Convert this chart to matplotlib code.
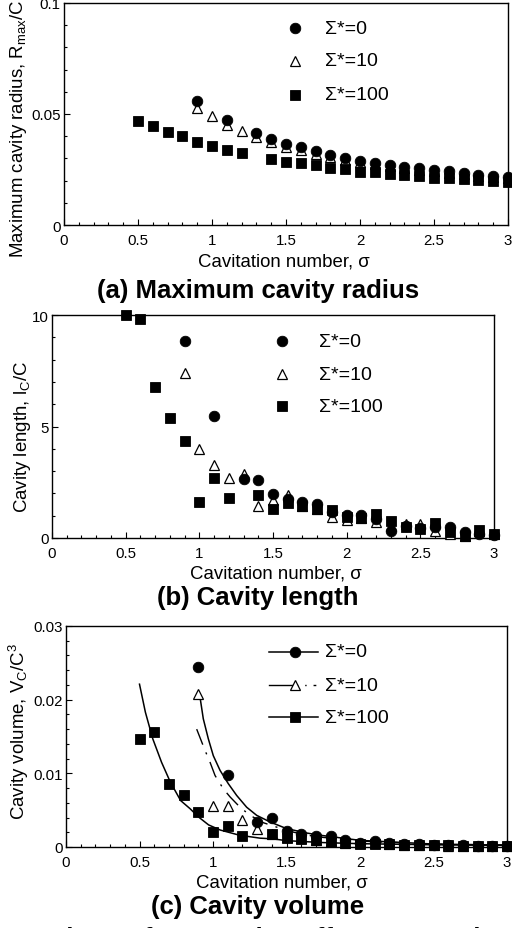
import matplotlib
matplotlib.use('Agg')
import matplotlib.pyplot as plt
from matplotlib.ticker import MultipleLocator, FuncFormatter

plt.rcParams['font.family'] = ['Liberation Sans', 'DejaVu Sans']
plt.rcParams['mathtext.fontset'] = 'custom'
plt.rcParams['mathtext.rm'] = 'Liberation Sans'
plt.rcParams['mathtext.it'] = 'Liberation Sans:italic'
plt.rcParams['mathtext.bf'] = 'Liberation Sans:bold'

# ---------------- data ----------------
labels = ['Σ*=0', 'Σ*=10', 'Σ*=100']

sig_circ = [0.9, 1.1, 1.3, 1.4, 1.5, 1.6, 1.7, 1.8, 1.9, 2.0, 2.1, 2.2, 2.3, 2.4,
            2.5, 2.6, 2.7, 2.8, 2.9, 3.0]
sig_tri = [0.9, 1.0, 1.1, 1.2, 1.3, 1.4, 1.5, 1.6, 1.7, 1.8, 1.9, 2.0, 2.1, 2.2,
           2.3, 2.4, 2.5, 2.6, 2.7, 2.8, 2.9, 3.0]
sig_sq = [0.5, 0.6, 0.7, 0.8, 0.9, 1.0, 1.1, 1.2, 1.4, 1.5, 1.6, 1.7, 1.8, 1.9,
          2.0, 2.1, 2.2, 2.3, 2.4, 2.5, 2.6, 2.7, 2.8, 2.9, 3.0]

# (a) maximum cavity radius
Ra_s0 = [0.0557, 0.0474, 0.0413, 0.0387, 0.0365, 0.0350, 0.0332, 0.0317, 0.0303,
         0.0290, 0.0281, 0.0272, 0.0263, 0.0257, 0.0248, 0.0242, 0.0234, 0.0227,
         0.0222, 0.0215]
Ra_s10 = [0.0527, 0.0490, 0.0450, 0.0425, 0.0398, 0.0372, 0.0352, 0.0337, 0.0322,
          0.0308, 0.0295, 0.0283, 0.0274, 0.0265, 0.0257, 0.0250, 0.0242, 0.0236,
          0.0229, 0.0222, 0.0217, 0.0211]
Ra_s100 = [0.0467, 0.0444, 0.0420, 0.0399, 0.0375, 0.0357, 0.0339, 0.0326, 0.0297,
           0.0285, 0.0278, 0.0269, 0.0257, 0.0251, 0.0240, 0.0237, 0.0231, 0.0225,
           0.0221, 0.0213, 0.0210, 0.0206, 0.0203, 0.0200, 0.0195]

# (b) cavity length
Lb_s0 = [8.82, 5.49, 2.65, 2.62, 1.96, 1.75, 1.60, 1.52, 1.15, 1.03, 1.03, 0.85,
         0.33, 0.55, 0.45, 0.50, 0.51, 0.25, 0.20, 0.15]
Lb_s10 = [7.40, 3.99, 3.29, 2.68, 2.85, 1.45, 1.70, 1.95, 1.45, 1.30, 0.95, 0.80,
          0.90, 0.70, 0.55, 0.62, 0.62, 0.30, 0.20, 0.10, 0.30, 0.20]
Lb_s100 = [10.0, 9.82, 6.76, 5.40, 4.36, 1.60, 2.69, 1.79, 1.94, 1.30, 1.57, 1.45,
           1.30, 1.26, 0.93, 0.88, 1.08, 0.78, 0.51, 0.40, 0.66, 0.25, 0.08, 0.36,
           0.18]

# (c) cavity volume
Vc_s0 = [0.0244, 0.0098, 0.0034, 0.0040, 0.0022, 0.0018, 0.0015, 0.0015, 0.0010,
         0.0006, 0.0008, 0.0006, 0.0004, 0.0004, 0.0003, 0.0003, 0.0003, 0.0002,
         0.0002, 0.0002]
Vc_s10 = [0.0208, 0.0055, 0.0055, 0.0036, 0.0025, 0.0018, 0.0014, 0.0012, 0.0010,
          0.0008, 0.0006, 0.0005, 0.0005, 0.0004, 0.0003, 0.0003, 0.0003, 0.0002,
          0.0002, 0.0002, 0.0002, 0.0001]
Vc_s100 = [0.0147, 0.0156, 0.0085, 0.0070, 0.0047, 0.0021, 0.0028, 0.0015, 0.0017,
           0.0012, 0.0011, 0.0009, 0.0007, 0.0006, 0.0004, 0.0004, 0.0004, 0.0003,
           0.0003, 0.0003, 0.0003, 0.0002, 0.0002, 0.0002, 0.0002]

# fitted curves in (c)
fit0_x = [0.9, 0.912, 0.934, 0.968, 1.002, 1.048, 1.104, 1.161, 1.229, 1.297,
          1.388, 1.5, 1.637, 1.728, 2.0, 2.5, 3.0]
fit0_y = [0.0208, 0.0203, 0.0174, 0.0147, 0.0124, 0.0104, 0.0086, 0.0070, 0.0054,
          0.0043, 0.0034, 0.0025, 0.0019, 0.0016, 0.0009, 0.0004, 0.00025]
fit10_x = [0.889, 0.946, 0.98, 1.014, 1.07, 1.116, 1.184, 1.252, 1.342, 1.433,
           1.55, 1.7, 2.0, 2.5, 3.0]
fit10_y = [0.0160, 0.0131, 0.0115, 0.0097, 0.0079, 0.0068, 0.0054, 0.0043, 0.0033,
           0.0027, 0.0020, 0.0014, 0.0008, 0.0004, 0.00025]
fit100_x = [0.5, 0.54, 0.59, 0.65, 0.71, 0.78, 0.844, 0.9, 0.97, 1.05, 1.18, 1.32,
            1.41, 1.5, 1.75, 2.0, 2.5, 3.0]
fit100_y = [0.0221, 0.0183, 0.0147, 0.0115, 0.0088, 0.0063, 0.0052, 0.0041, 0.0030,
            0.0023, 0.0016, 0.0012, 0.0011, 0.00086, 0.0006, 0.00045, 0.0003,
            0.00022]

# ---------------- figure ----------------
W, H = 512, 929
fig = plt.figure(figsize=(W / 100, H / 100), dpi=100)


def px_axes(l, t, r, b):
    return fig.add_axes([l / W, 1 - b / H, (r - l) / W, (b - t) / H])


fmt = FuncFormatter(lambda v, p: '%g' % round(v, 6))
TICK_FS = 10.8
LAB_FS = 13.4
LEG_FS = 14
TITLE_FS = 18.5

circ_kw = dict(marker='o', ms=7.6, mfc='black', mec='black', mew=0.6, ls='none')
tri_kw = dict(marker='^', ms=7.0, mfc='white', mec='black', mew=0.9, ls='none')
sq_kw = dict(marker='s', ms=7.6, mfc='black', mec='black', mew=0.6, ls='none')


def style(ax, ymax, ymaj, ymin):
    ax.set_xlim(0, 3)
    ax.set_ylim(0, ymax)
    ax.xaxis.set_major_locator(MultipleLocator(0.5))
    ax.xaxis.set_minor_locator(MultipleLocator(0.1))
    ax.yaxis.set_major_locator(MultipleLocator(ymaj))
    ax.yaxis.set_minor_locator(MultipleLocator(ymin))
    ax.xaxis.set_major_formatter(fmt)
    ax.yaxis.set_major_formatter(fmt)
    ax.tick_params(which='both', direction='in', top=False, right=False,
                   width=0.8, labelsize=TICK_FS)
    ax.tick_params(which='major', length=4.5)
    ax.tick_params(which='minor', length=2.5)
    ax.tick_params(axis='x', pad=6)
    ax.tick_params(axis='y', pad=2.5)
    for s in ax.spines.values():
        s.set_linewidth(1.0)


def scatter3(ax, y0, y10, y100):
    ax.plot(sig_tri, y10, clip_on=False, zorder=3, **tri_kw)
    ax.plot(sig_sq, y100, clip_on=False, zorder=4, **sq_kw)
    ax.plot(sig_circ, y0, clip_on=False, zorder=5, **circ_kw)


def legend_markers(ax, xm, xt, ys):
    for kw, lab, y in zip([circ_kw, tri_kw, sq_kw], labels, ys):
        ax.plot([xm], [y], transform=ax.transAxes, clip_on=False, **kw)
        ax.text(xt, y, lab, transform=ax.transAxes, fontsize=LEG_FS,
                va='center', ha='left')


# (a)
axa = px_axes(64, 4, 508, 226)
style(axa, 0.1, 0.05, 0.01)
scatter3(axa, Ra_s0, Ra_s10, Ra_s100)
legend_markers(axa, 0.520, 0.588, [0.886, 0.739, 0.586])
fig.text(284 / W, 1 - 262 / H, 'Cavitation number, σ', fontsize=LAB_FS,
         ha='center', va='center')
fig.text(19 / W, 1 - 129 / H, r'Maximum cavity radius, R$_{\mathrm{max}}$/C',
         fontsize=LAB_FS, rotation=90, ha='center', va='center')
fig.text(258 / W, 1 - 291 / H, '(a) Maximum cavity radius', fontsize=TITLE_FS,
         fontweight='bold', ha='center', va='center')

# (b)
axb = px_axes(52, 316, 494, 539)
style(axb, 10, 5, 1)
scatter3(axb, Lb_s0, Lb_s10, Lb_s100)
legend_markers(axb, 0.520, 0.604, [0.882, 0.735, 0.591])
fig.text(276 / W, 1 - 574 / H, 'Cavitation number, σ', fontsize=LAB_FS,
         ha='center', va='center')
fig.text(23 / W, 1 - 437 / H, r'Cavity length, l$_{\mathrm{C}}$/C',
         fontsize=LAB_FS, rotation=90, ha='center', va='center')
fig.text(258 / W, 1 - 598 / H, '(b) Cavity length', fontsize=TITLE_FS,
         fontweight='bold', ha='center', va='center')

# (c)
axc = px_axes(66, 627, 507, 848)
style(axc, 0.03, 0.01, 0.002)
dashdot = (0, (12, 6, 1.5, 6))
axc.plot(fit0_x, fit0_y, color='black', lw=1.1, zorder=2)
axc.plot(fit10_x, fit10_y, color='black', lw=1.0, ls=dashdot, zorder=2)
axc.plot(fit100_x, fit100_y, color='black', lw=1.1, zorder=2)
scatter3(axc, Vc_s0, Vc_s10, Vc_s100)

# legend (c)
lx0, lxm, lx1, ltx = 0.460, 0.519, 0.571, 0.587
lys = [0.884, 0.733, 0.587]
axc.plot([lx0, lx1], [lys[0]] * 2, color='black', lw=1.1, transform=axc.transAxes)
axc.plot([lxm], [lys[0]], transform=axc.transAxes, **circ_kw)
axc.plot([lx0, lxm], [lys[1]] * 2, color='black', lw=1.0, transform=axc.transAxes)
axc.plot([lxm, lx1], [lys[1]] * 2, color='black', lw=1.0, ls=(0, (2, 5, 1, 5)),
         transform=axc.transAxes)
axc.plot([lxm], [lys[1]], transform=axc.transAxes, **tri_kw)
axc.plot([lx0, lx1], [lys[2]] * 2, color='black', lw=1.1, transform=axc.transAxes)
axc.plot([lxm], [lys[2]], transform=axc.transAxes, **sq_kw)
for lab, y in zip(labels, lys):
    axc.text(ltx, y, lab, transform=axc.transAxes, fontsize=LEG_FS,
             va='center', ha='left')

fig.text(282 / W, 1 - 883 / H, 'Cavitation number, σ', fontsize=LAB_FS,
         ha='center', va='center')
fig.text(19 / W, 1 - 731 / H, r'Cavity volume, V$_{\mathrm{C}}$/C$^{\mathrm{3}}$',
         fontsize=LAB_FS, rotation=90, ha='center', va='center')
fig.text(258 / W, 1 - 907 / H, '(c) Cavity volume', fontsize=TITLE_FS,
         fontweight='bold', ha='center', va='center')

# caption cut off by the bottom edge
fig.text(15 / W, 1 - 939.5 / H, '10 The surface tension effects on cavity',
         fontsize=TITLE_FS, fontweight='bold', ha='left', va='center')

fig.savefig('out.png', dpi=100)
